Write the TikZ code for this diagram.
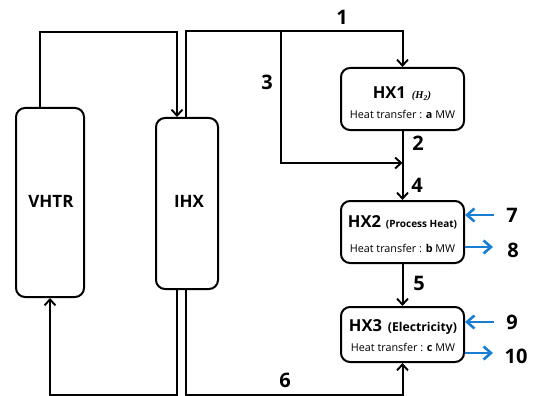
\documentclass[tikz,border=0pt]{standalone}
\usepackage{fontspec}
\setmainfont{Open Sans}
\newfontfamily\serifit{Liberation Serif}
\usetikzlibrary{arrows.meta}
\definecolor{flowblue}{RGB}{25,125,210}
\tikzset{
  box/.style={draw, line width=2pt, rounded corners=9pt, inner sep=0pt},
  flow/.style={line width=2pt, -{Straight Barb[length=6pt,width=11pt,line width=1.9pt]}},
  side/.style={line width=2.8pt, flowblue, -{Straight Barb[length=7.5pt,width=13pt,line width=2.6pt]}},
  num/.style={font=\bfseries\fontsize{20}{20}\selectfont, inner sep=0pt},
  txt/.style={anchor=base, inner sep=0pt},
  big/.style={txt, font=\bfseries\fontsize{17}{17}\selectfont},
  heat/.style={txt, font=\fontsize{10.8}{10.8}\selectfont},
}
\begin{document}
\begin{tikzpicture}[x=1pt,y=-1pt]
\useasboundingbox (0,0) rectangle (536,396);
\node[box, minimum width=68pt, minimum height=189pt] (VHTR) at (50,202.5) {};
\node[box, minimum width=62pt, minimum height=171pt] (IHX) at (187,203.5) {};
\node[box, minimum width=123pt, minimum height=62pt] (HX1) at (402.5,99) {};
\node[box, minimum width=123pt, minimum height=62pt] (HX2) at (402.5,232) {};
\node[box, minimum width=123pt, minimum height=55pt] (HX3) at (402.5,334.5) {};

\node[big] (VHTRt) at (51,207.5) {VHTR};
\node[big] (IHXt) at (189,207.5) {IHX};
\node[txt] (HX1t) at (402,99)
  {{\bfseries\fontsize{16.5}{16.5}\selectfont HX1}\hspace{6pt}{\serifit\bfseries\itshape\fontsize{10.5}{10.5}\selectfont (H\textsubscript{2})}};
\node[heat] (HX1s) at (402.5,118) {Heat transfer : \textbf{a} MW};
\node[txt] (HX2t) at (402.5,227)
  {{\bfseries\fontsize{16.5}{16.5}\selectfont HX2}\hspace{5pt}{\bfseries\fontsize{10}{10}\selectfont (Process Heat)}};
\node[heat] (HX2s) at (402.5,252) {Heat transfer : \textbf{b} MW};
\node[txt] (HX3t) at (403,331)
  {{\bfseries\fontsize{16.5}{16.5}\selectfont HX3}\hspace{6pt}{\bfseries\fontsize{12.2}{12.2}\selectfont (Electricity)}};
\node[heat] (HX3s) at (403,351) {Heat transfer : \textbf{c} MW};

% loops from reactor / IHX
\draw[flow] ([xshift=-10pt]VHTR.north) -- ++(0,-75) -| ([xshift=-10pt]IHX.north);
\draw[flow] ([xshift=-1pt]IHX.north) -- ++(0,-86) -| (HX1.north);
\coordinate (br) at (281,32);
\coordinate (j) at (HX1.south |- 0,163);
\draw[flow] (br) |- (j);
\draw[flow] (HX1.south) -- (HX2.north);
\draw[flow] (HX2.south) -- (HX3.north);
\draw[flow] ([xshift=-10pt]IHX.south) -- ++(0,105) -| (VHTR.south);
\draw[flow] ([xshift=-1pt]IHX.south) -- ++(0,105) -| (HX3.south);

% side streams
\coordinate (c7) at (494,215);
\coordinate (c8) at (466,247);
\coordinate (c9) at (494,322);
\coordinate (c10) at (466,353);
\draw[side] (c7) -- (HX2.east |- c7);
\draw[side] (HX2.east |- c8) -- ++(28,0);
\draw[side] (c9) -- (HX3.east |- c9);
\draw[side] (HX3.east |- c10) -- ++(28,0);

% labels
\node[num] (n1) at (342,17) {1};
\node[num] (n2) at (418,143) {2};
\node[num] (n3) at (267,82) {3};
\node[num] (n4) at (417,185) {4};
\node[num] (n5) at (419,283) {5};
\node[num] (n6) at (285,380) {6};
\node[num] (n7) at (512,215) {7};
\node[num] (n8) at (513,250) {8};
\node[num] (n9) at (512,322) {9};
\node[num] (n10) at (516,356) {10};
\end{tikzpicture}
\end{document}
